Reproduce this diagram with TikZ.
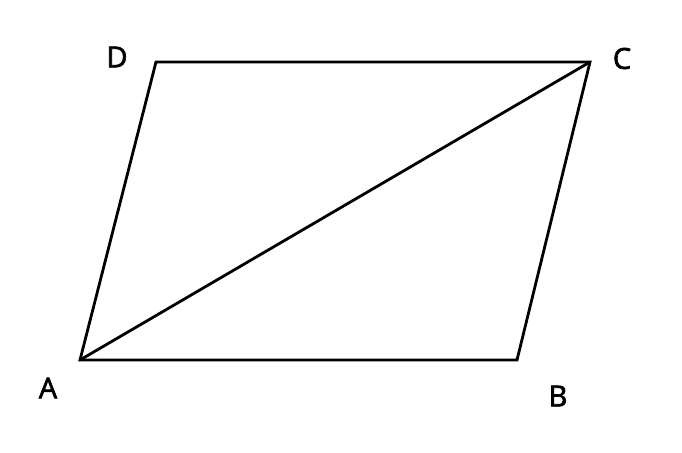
\documentclass[tikz,border=0pt]{standalone}
\usepackage{fontspec}
\newfontfamily\labelfont{Open Sans}[RawFeature={embolden=2.2}]
\begin{document}
\begin{tikzpicture}[x=1pt,y=-1pt]
		\tikzset{side/.style = {draw,line width=2.8pt,line join=miter}}
		\tikzset{vlabel/.style = {font=\labelfont\fontsize{29}{30}\selectfont,inner sep=0pt}}
		\useasboundingbox (0,0) rectangle (682,452);
		\coordinate (a) at (80,360);
		\coordinate (b) at (517,360);
		\coordinate (c) at (590,62);
		\coordinate (d) at (156,62);
		\path[side] (a) -- (b) -- (c) -- (d) -- cycle;
		\path[side] (a) -- (c);
		\node[vlabel] (la) at (48,388) {A};
		\node[vlabel] (lb) at (558,396) {B};
		\node[vlabel] (lc) at (622,58.5) {C};
		\node[vlabel] (ld) at (117,57) {D};
	\end{tikzpicture}
\end{document}
